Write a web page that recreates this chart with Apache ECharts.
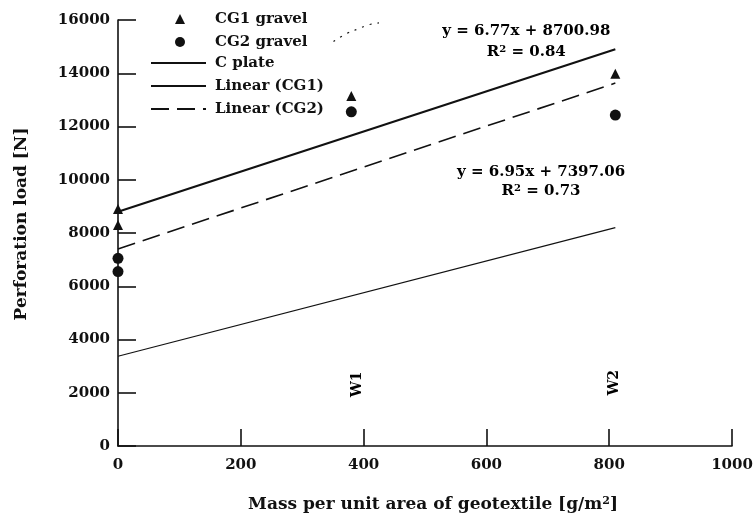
<!DOCTYPE html>
<html>
<head>
<meta charset="utf-8">
<title>Perforation load</title>
<script src="https://cdn.jsdelivr.net/npm/echarts@6/dist/echarts.min.js"></script>
<style>
    html, body { margin: 0; padding: 0; background: #fff; }
    .chart-main { width: 756px; height: 518px; }
</style>
</head>
<body>
<div class="chart-main"></div>
<script>
// mass per unit area [g/m2] and perforation load [N]
const cg1Mass = [0, 0, 380, 810];
const cg1Load = [8900, 8300, 13150, 13980];
const cg2Mass = [0, 0, 380, 810];
const cg2Load = [7050, 6550, 12550, 12430];

const lineMass = [0, 810];
const cPlateLoad = [3370, 8200];
const linearCg1Load = [8800, 14900];
const linearCg2Load = [7400, 13630];

// stray dotted trace near the top of the plot
const strayMass = [351, 375, 392, 407, 425];
const strayLoad = [15190, 15520, 15670, 15815, 15890];

const xTicks = [0, 200, 400, 600, 800, 1000];
const yTicks = [0, 2000, 4000, 6000, 8000, 10000, 12000, 14000, 16000];

(function () {
    "use strict";

    const FONT = 'DejaVu Serif';
    const INK = '#111';

    function pairs(xs, ys) {
        return xs.map((x, i) => [x, ys[i]]);
    }

    function textStyle(size) {
        return { fontFamily: FONT, fontSize: size, fontWeight: 'bold', color: INK };
    }

    function drawChart() {
        let myChart = echarts.init(document.querySelector('.chart-main'), null, { renderer: 'canvas' });
        let legendText = Object.assign(textStyle(15), { lineHeight: 18 });

        let option = {
            backgroundColor: '#fff',
            animation: false,
            grid: { left: 118, right: 24, top: 20, bottom: 71 },
            legend: [
                {
                    // marker entries, icon kept small and centred over the line icons
                    orient: 'vertical',
                    left: 170,
                    top: 5,
                    itemWidth: 10,
                    itemHeight: 10,
                    itemGap: 5,
                    selectedMode: false,
                    textStyle: Object.assign({}, legendText, { padding: [0, 0, 0, 25] }),
                    data: [
                        { name: 'CG1 gravel', icon: 'triangle' },
                        { name: 'CG2 gravel', icon: 'circle' }
                    ]
                },
                {
                    orient: 'vertical',
                    left: 145,
                    top: 49,
                    itemWidth: 55,
                    itemHeight: 10,
                    itemGap: 5,
                    selectedMode: false,
                    textStyle: Object.assign({}, legendText, { padding: [0, 0, 0, 4] }),
                    data: ['C plate', 'Linear (CG1)', 'Linear (CG2)']
                }
            ],
            xAxis: {
                type: 'value',
                min: xTicks[0],
                max: xTicks[xTicks.length - 1],
                interval: xTicks[1] - xTicks[0],
                name: '{t|Mass per unit area of geotextile [g/m}{s|2}{t|]}',
                nameLocation: 'middle',
                nameGap: 50,
                nameTextStyle: {
                    padding: [0, 0, 0, 16],
                    rich: {
                        t: textStyle(17),
                        s: Object.assign(textStyle(11), { verticalAlign: 'top', padding: [0, 0, 6, 0] })
                    }
                },
                axisLine: { lineStyle: { color: INK, width: 1.6 } },
                axisTick: { inside: true, length: 17, lineStyle: { color: INK, width: 1.6 } },
                axisLabel: Object.assign(textStyle(15), { margin: 12, formatter: (v) => String(v) }),
                splitLine: { show: false }
            },
            yAxis: {
                type: 'value',
                min: yTicks[0],
                max: yTicks[yTicks.length - 1],
                interval: yTicks[1] - yTicks[0],
                name: 'Perforation load [N]',
                nameLocation: 'middle',
                nameGap: 88,
                nameTextStyle: Object.assign(textStyle(17), { padding: [0, 0, 0, 18] }),
                axisLine: { show: true, lineStyle: { color: INK, width: 1.6 } },
                axisTick: { show: true, inside: true, length: 18, lineStyle: { color: INK, width: 1.6 } },
                axisLabel: Object.assign(textStyle(15), { margin: 8, formatter: (v) => String(v) }),
                splitLine: { show: false }
            },
            series: [
                {
                    name: 'CG1 gravel',
                    type: 'scatter',
                    symbol: 'triangle',
                    symbolSize: 10,
                    itemStyle: { color: INK, opacity: 1 },
                    data: pairs(cg1Mass, cg1Load)
                },
                {
                    name: 'CG2 gravel',
                    type: 'scatter',
                    symbol: 'circle',
                    symbolSize: 11,
                    itemStyle: { color: INK, opacity: 1 },
                    data: pairs(cg2Mass, cg2Load)
                },
                {
                    name: 'C plate',
                    type: 'line',
                    symbol: 'none',
                    lineStyle: { color: INK, width: 1.2 },
                    itemStyle: { color: 'transparent' },
                    data: pairs(lineMass, cPlateLoad)
                },
                {
                    name: 'Linear (CG1)',
                    type: 'line',
                    symbol: 'none',
                    lineStyle: { color: INK, width: 2.2 },
                    itemStyle: { color: 'transparent' },
                    data: pairs(lineMass, linearCg1Load)
                },
                {
                    name: 'Linear (CG2)',
                    type: 'line',
                    symbol: 'none',
                    lineStyle: { color: INK, width: 1.6, type: [18, 8] },
                    itemStyle: { color: 'transparent' },
                    data: pairs(lineMass, linearCg2Load)
                },
                {
                    name: 'stray',
                    type: 'line',
                    symbol: 'none',
                    smooth: true,
                    lineStyle: { color: INK, width: 1.2, type: [2, 6] },
                    data: pairs(strayMass, strayLoad)
                }
            ]
        };
        myChart.setOption(option);

        // trend-line equations and the W1 / W2 markers, anchored in data space
        let toPx = (p) => myChart.convertToPixel({ gridIndex: 0 }, p);
        let rich = {
            t: textStyle(15),
            s: Object.assign(textStyle(10), { verticalAlign: 'top', padding: [0, 0, 6, 0] })
        };
        let notes = [
            { at: [665, 15600], text: '{t|y = 6.77x + 8700.98}' },
            { at: [665, 14780], text: '{t|R}{s|2}{t| = 0.84}' },
            { at: [689, 10300], text: '{t|y = 6.95x + 7397.06}' },
            { at: [689, 9560], text: '{t|R}{s|2}{t| = 0.73}' }
        ];
        let graphic = notes.map(n => {
            let p = toPx(n.at);
            return {
                type: 'text', x: p[0], y: p[1],
                style: { text: n.text, rich: rich, align: 'center', verticalAlign: 'middle' }
            };
        });
        [['W1', [390, 2320]], ['W2', [808, 2380]]].forEach(w => {
            let p = toPx(w[1]);
            graphic.push({
                type: 'text', x: p[0], y: p[1], rotation: Math.PI / 2,
                style: Object.assign(textStyle(14), { text: w[0], align: 'center', verticalAlign: 'middle' })
            });
        });
        myChart.setOption({ graphic: graphic });

        window.addEventListener("resize", () => {
            myChart.resize();
        });
    }

    drawChart();
})();
</script>
</body>
</html>
